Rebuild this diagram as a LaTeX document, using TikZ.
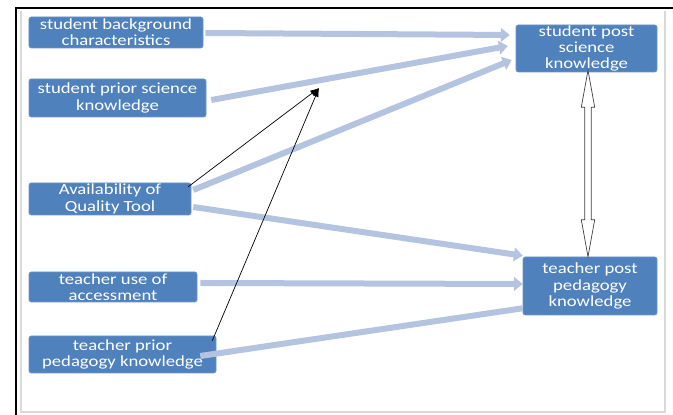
\documentclass[tikz,border=0pt]{standalone}
\usepackage{fontspec}
\setmainfont{Carlito}[FakeStretch=1.21]
\usetikzlibrary{arrows.meta, positioning, calc}
\definecolor{boxblue}{RGB}{79, 129, 189}
\definecolor{boxedge}{RGB}{110, 148, 200}
\definecolor{linkblue}{RGB}{180, 196, 224}
\definecolor{framegray}{RGB}{217, 217, 217}

\begin{document}
\begin{tikzpicture}[
    factor/.style={rectangle, rounded corners=1.5pt, fill=boxblue, draw=boxedge, thin,
        text=white, align=center, inner sep=0pt, font=\fontsize{11}{11.6}\selectfont},
    link/.style={linkblue, line width=0.15cm, -{Triangle[length=0.22cm, width=0.34cm]}},
    pointer/.style={black, line width=0.5pt, -{Latex[length=0.22cm, width=0.16cm]}}]
    \useasboundingbox (0, 0) rectangle (16.825, 10.375);

    % frame
    \draw[framegray, line width=1pt] (0.525, 10.1) -- (0.525, 0.075) -- (16.625, 0.075) -- (16.625, 10.1);
    \draw[black, line width=1.4pt] (0.4, 0) -- (0.4, 10.175) -- (16.825, 10.175);

    % factors
    \node[factor, minimum width=4.35cm, minimum height=0.775cm] (sbc) at (2.9, 9.5625) {student background\\characteristics};
    \node[factor, minimum width=4.425cm, minimum height=0.95cm] (sps) at (2.9375, 7.925) {student prior science\\knowledge};
    \node[factor, minimum width=4.05cm, minimum height=0.8cm] (aqt) at (2.75, 5.4) {Availability of\\Quality Tool};
    \node[factor, minimum width=4.2cm, minimum height=0.75cm] (tua) at (2.825, 3.2) {teacher use of\\accessment};
    \node[factor, minimum width=4.675cm, minimum height=0.925cm] (tpp) at (3.0625, 1.5125) {teacher prior\\pedagogy knowledge};

    % outcomes
    \node[factor, minimum width=3.525cm, minimum height=1.175cm] (spsk) at (14.6625, 9.1625) {student post\\science\\knowledge};
    \node[factor, minimum width=3.35cm, minimum height=1.45cm] (tppk) at (14.75, 3.225) {teacher post\\pedagogy\\knowledge};

    \coordinate (meet) at (7.975, 8.175);

    % links
    \draw[link] ($(sbc.east)+(0.05,-0.0125)$) -- ($(spsk.west)+(-0.15,0.3375)$);
    \draw[link] ($(sps.east)+(0.125,-0.05)$) -- ($(spsk.west)+(-0.2,0.0625)$);
    \draw[link] ($(aqt.east)+(0.05,0.225)$) -- ($(spsk.west)+(-0.1,-0.2875)$);
    \draw[link] ($(aqt.east)+(0.05,-0.2)$) -- ($(tppk.north west)+(0,0.025)$);
    \draw[link] ($(tua.east)+(0.075,0.1)$) -- ($(tppk.west)+(0,0.05)$);
    \draw[link, -] ($(tpp.east)+(-0.4,-0.0375)$) -- ($(tppk.south west)+(0,0.175)$);

    \draw[pointer] ($(aqt.north east)+(-0.075,-0.1)$) -- (meet);
    \draw[pointer] ($(tpp.north east)+(-0.1,-0.125)$) -- (meet);

    % two-way arrow
    \path (spsk.south) ++(0.0375,0.05) coordinate (dtop);
    \path (tppk.north) ++(-0.05,0) coordinate (dbot);
    \draw[fill=white, draw=black!75, line width=0.5pt, line join=miter]
        (dtop) -- ++(-0.1675,-0.925) -- ++(0.085,0) -- ($(dbot)+(-0.0825,0.925)$) -- ++(-0.085,0)
        -- (dbot) -- ++(0.1675,0.925) -- ++(-0.085,0) -- ($(dtop)+(0.0825,-0.925)$) -- ++(0.085,0) -- cycle;
\end{tikzpicture}
\end{document}
